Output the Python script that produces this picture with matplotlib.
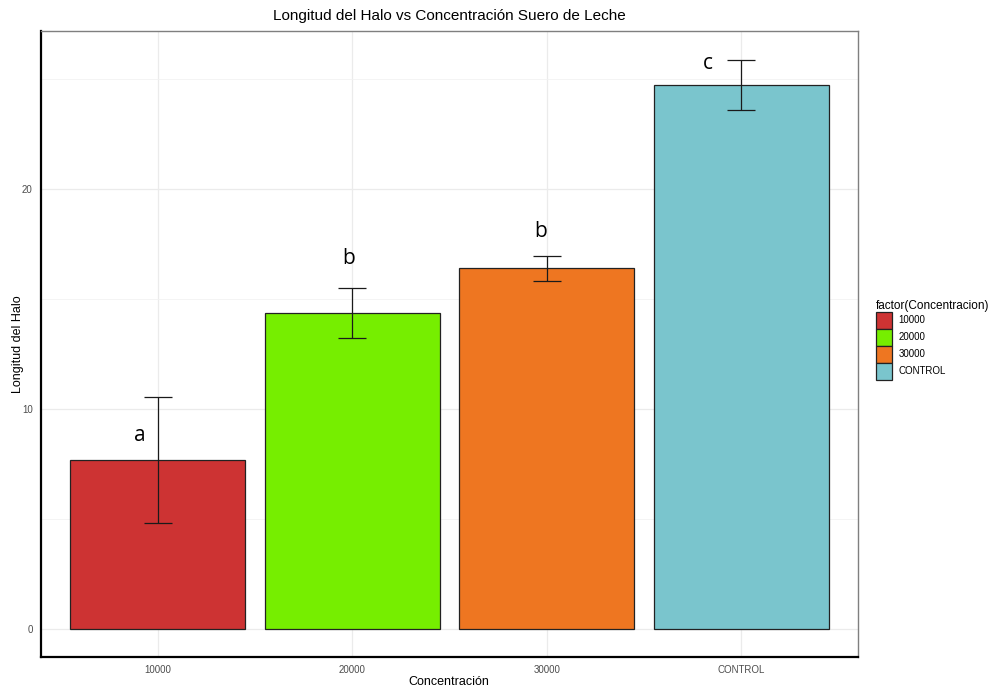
import numpy as np
import matplotlib
matplotlib.use("Agg")
import matplotlib.pyplot as plt
from matplotlib.patches import Patch

categorias = ["10000", "20000", "30000", "CONTROL"]
medias = [7.68, 14.36, 16.4, 24.73]
errores = [2.88, 1.15, 0.57, 1.13]
letras = ["a", "b", "b", "c"]
letra_y = [8.8, 16.86, 18.05, 25.7]
letra_dx = [-0.09, -0.02, -0.03, -0.17]
colores = ["#CD3333", "#76EE00", "#EE7621", "#7AC5CD"]

plt.rcParams["font.family"] = ["Liberation Sans", "DejaVu Sans"]

fig = plt.figure(figsize=(9.92, 6.88), dpi=100)
ax = fig.add_axes([41 / 992, 31 / 688, 817 / 992, 626 / 688])

x = np.arange(1, len(categorias) + 1)
ax.bar(x, medias, width=0.9, color=colores, edgecolor="#222222", linewidth=0.9, zorder=2)
ax.errorbar(x, medias, yerr=errores, fmt="none", ecolor="#1a1a1a", elinewidth=0.9,
            capsize=10, capthick=0.9, zorder=3)

for xi, dx, yl, l in zip(x, letra_dx, letra_y, letras):
    ax.text(xi + dx, yl, l, ha="center", va="center", fontsize=15, family="Open Sans", zorder=4)

ax.set_xlim(0.4, 4.6)
ax.set_ylim(-1.27, 27.18)
ax.set_xticks(x)
ax.set_xticklabels(categorias)
ax.set_yticks([0, 10, 20])
ax.set_yticks([5, 15, 25], minor=True)
ax.tick_params(axis="both", which="both", length=0, labelsize=7, labelcolor="#4d4d4d", pad=6)
ax.grid(True, which="major", color="#ebebeb", linewidth=0.9, zorder=0)
ax.grid(True, which="minor", axis="y", color="#f2f2f2", linewidth=0.6, zorder=0)
ax.set_axisbelow(True)

for s in ["top", "right"]:
    ax.spines[s].set_color("#7f7f7f")
    ax.spines[s].set_linewidth(1.0)
for s in ["left", "bottom"]:
    ax.spines[s].set_color("black")
    ax.spines[s].set_linewidth(1.6)

ax.set_title("Longitud del Halo vs Concentración Suero de Leche", fontsize=11, pad=8)
fig.text(449 / 992, 1 - 682 / 688, "Concentración", fontsize=9, ha="center", va="center")
fig.text(18 / 992, 1 - 344 / 688, "Longitud del Halo", fontsize=9, ha="center", va="center",
         rotation=90)

handles = [Patch(facecolor=c, edgecolor="#222222", linewidth=0.9) for c in colores]
leg = fig.legend(handles, categorias, title="factor(Concentracion)", loc="upper left",
                 bbox_to_anchor=(872 / 992, 1 - 296 / 688), frameon=False, fontsize=7,
                 title_fontsize=8.5, handlelength=1.7, handleheight=2.3, labelspacing=0.0,
                 handletextpad=0.6, borderaxespad=0)
leg._legend_box.align = "left"

fig.savefig("out.png", dpi=100)
